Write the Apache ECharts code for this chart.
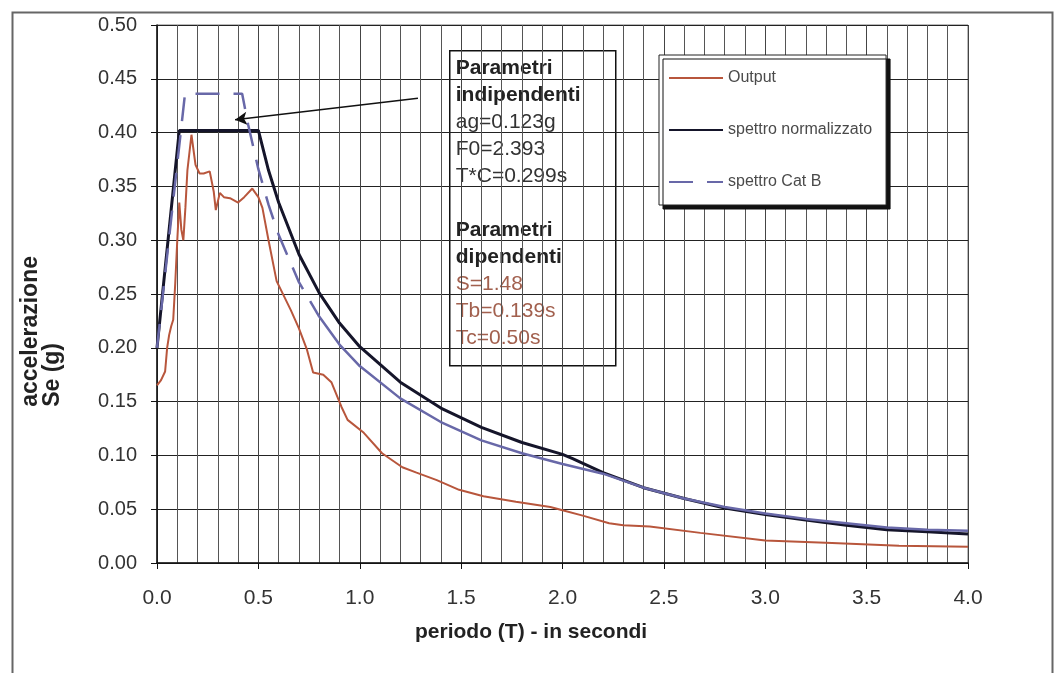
<!DOCTYPE html>
<html>
<head>
<meta charset="utf-8">
<script src="https://cdn.jsdelivr.net/npm/echarts@6/dist/echarts.min.js"></script>
<style>
  html, body { margin: 0; padding: 0; background: #fff; }
  #chart { width: 1061px; height: 673px; }
</style>
</head>
<body>
<div id="chart"></div>
<script>
// periodo T (s) and Se (g)
const outputT = [0, 0.02, 0.04, 0.05, 0.06, 0.07, 0.08, 0.09, 0.10, 0.11, 0.12, 0.13, 0.14, 0.15, 0.17, 0.19, 0.21, 0.23, 0.26, 0.28, 0.29, 0.31, 0.33, 0.36, 0.40, 0.43, 0.47, 0.50, 0.52, 0.55, 0.59, 0.66, 0.70, 0.74, 0.77, 0.82, 0.86, 0.91, 0.94, 1.02, 1.11, 1.21, 1.28, 1.38, 1.49, 1.61, 1.77, 1.94, 2.00, 2.10, 2.23, 2.30, 2.43, 2.68, 3.00, 3.33, 3.66, 4.00];
const outputSe = [0.165, 0.170, 0.178, 0.200, 0.212, 0.220, 0.226, 0.260, 0.300, 0.335, 0.310, 0.300, 0.330, 0.365, 0.398, 0.370, 0.362, 0.362, 0.364, 0.345, 0.328, 0.344, 0.340, 0.339, 0.335, 0.340, 0.348, 0.340, 0.330, 0.300, 0.262, 0.235, 0.218, 0.198, 0.177, 0.175, 0.168, 0.145, 0.133, 0.121, 0.102, 0.089, 0.084, 0.077, 0.068, 0.062, 0.057, 0.052, 0.049, 0.044, 0.037, 0.035, 0.034, 0.028, 0.021, 0.0185, 0.016, 0.015];

const normT = [0, 0.11, 0.50, 0.55, 0.60, 0.70, 0.80, 0.90, 1.00, 1.20, 1.40, 1.60, 1.80, 2.00, 2.05, 2.20, 2.40, 2.60, 2.80, 3.00, 3.20, 3.40, 3.60, 3.80, 4.00];
const normSe = [0.200, 0.402, 0.402, 0.365, 0.335, 0.287, 0.251, 0.223, 0.201, 0.168, 0.144, 0.126, 0.112, 0.101, 0.097, 0.084, 0.070, 0.060, 0.051, 0.045, 0.040, 0.035, 0.031, 0.029, 0.027];

const catBT = [0, 0.138, 0.42, 0.45, 0.50, 0.55, 0.60, 0.70, 0.80, 0.90, 1.00, 1.20, 1.40, 1.60, 1.80, 2.00, 2.20, 2.40, 2.60, 2.80, 3.00, 3.20, 3.40, 3.60, 3.80, 4.00];
const catBSe = [0.200, 0.436, 0.436, 0.407, 0.366, 0.333, 0.305, 0.261, 0.229, 0.203, 0.183, 0.153, 0.131, 0.114, 0.102, 0.092, 0.083, 0.070, 0.060, 0.052, 0.046, 0.041, 0.037, 0.033, 0.031, 0.030];
const catBDashEnd = 8; // dashes visible up to T = 0.8, denser segments look solid after

const names = ['Output', 'spettro normalizzato', 'spettro Cat B'];
const arrowFrom = [1.287, 0.432];
const arrowTo = [0.385, 0.412];

const boxLines = [
  ['b', 'Parametri'], ['b', 'indipendenti'], ['n', 'ag=0.123g'], ['n', 'F0=2.393'], ['n', 'T*C=0.299s'], ['n', ' '],
  ['b', 'Parametri'], ['b', 'dipendenti'], ['r', 'S=1.48'], ['r', 'Tb=0.139s'], ['r', 'Tc=0.50s']
];

const font = '"Liberation Sans", Arial, sans-serif';
const narrow = '"Liberation Sans Narrow", "Arial Narrow", "Liberation Sans", sans-serif';

const zip = (xs, ys) => xs.map((x, i) => [x, ys[i]]);

const chart = echarts.init(document.getElementById('chart'), null, { renderer: 'canvas' });

const option = {
  backgroundColor: '#fff',
  animation: false,
  grid: { left: 157, top: 25, width: 811, height: 538, show: true, borderColor: '#777', borderWidth: 1, backgroundColor: '#fff' },
  legend: {
    data: names,
    orient: 'vertical',
    left: 659, top: 55,
    padding: [15, 14, 15, 9],
    itemGap: 36, itemWidth: 54, itemHeight: 14,
    backgroundColor: '#fff',
    borderColor: '#222', borderWidth: 1,
    shadowColor: '#111', shadowBlur: 0, shadowOffsetX: 4, shadowOffsetY: 4,
    itemStyle: { opacity: 0 },
    textStyle: { fontFamily: narrow, fontSize: 16, color: '#4a4a4a' }
  },
  xAxis: {
    type: 'value', min: 0, max: 4, interval: 0.5,
    axisLine: { lineStyle: { color: '#111', width: 1.5 } },
    axisTick: { show: true, length: 6, lineStyle: { color: '#111' } },
    axisLabel: { fontFamily: font, fontSize: 21, color: '#333', margin: 25, formatter: v => v.toFixed(1) },
    splitLine: { show: true, lineStyle: { color: '#444', width: 1 } },
    minorTick: { show: false, splitNumber: 5 },
    minorSplitLine: { show: true, lineStyle: { color: '#555', width: 1 } }
  },
  yAxis: {
    type: 'value', min: 0, max: 0.5, interval: 0.05,
    axisLine: { show: true, lineStyle: { color: '#111', width: 1.5 } },
    axisTick: { show: true, length: 6, lineStyle: { color: '#111' } },
    axisLabel: { fontFamily: font, fontSize: 20, color: '#333', margin: 20, formatter: v => v.toFixed(2) },
    splitLine: { show: true, lineStyle: { color: '#222', width: 1 } }
  },
  series: [
    {
      name: names[0], type: 'line', data: zip(outputT, outputSe), symbol: 'none', z: 3,
      lineStyle: { color: '#b8563c', width: 2 }, itemStyle: { color: '#b8563c' },
      markLine: {
        silent: true, symbol: ['none', 'arrow'], symbolSize: [10, 12],
        label: { show: false },
        lineStyle: { color: '#111', width: 1.5, type: 'solid' },
        data: [[{ coord: arrowFrom }, { coord: arrowTo }]]
      }
    },
    {
      name: names[1], type: 'line', data: zip(normT, normSe), symbol: 'none', z: 4,
      lineStyle: { color: '#15152a', width: 3 }, itemStyle: { color: '#15152a' }
    },
    {
      name: names[2], type: 'line', data: zip(catBT, catBSe).slice(0, catBDashEnd + 1), symbol: 'none', z: 5,
      lineStyle: { color: '#6868a8', width: 2.5, type: [24, 14] }, itemStyle: { color: '#6868a8' }
    },
    {
      name: 'spettro Cat B (seguito)', type: 'line', data: zip(catBT, catBSe).slice(catBDashEnd), symbol: 'none', z: 5,
      lineStyle: { color: '#6868a8', width: 2.5 }, itemStyle: { color: '#6868a8' }
    }
  ],
  graphic: [
    {
      type: 'rect', left: 10, top: 10, silent: true, z: -10,
      shape: { width: 1040, height: 680 },
      style: { fill: 'none', stroke: '#666', lineWidth: 2 }
    },
    {
      type: 'text', left: 19, top: 256, silent: true,
      rotation: Math.PI / 2,
      style: {
        text: 'accelerazione\nSe (g)', align: 'center', verticalAlign: 'middle',
        fontFamily: font, fontWeight: 'bold', fontSize: 23, lineHeight: 22, fill: '#222'
      }
    },
    {
      type: 'text', left: 415, top: 622, silent: true,
      style: {
        text: 'periodo (T) - in secondi',
        fontFamily: font, fontWeight: 'bold', fontSize: 21, fill: '#222'
      }
    },
    {
      type: 'group', left: 449, top: 50, z: 100,
      children: [
        { type: 'rect', shape: { x: 0, y: 0, width: 166, height: 315 }, style: { fill: '#fff', stroke: '#111', lineWidth: 1.5 } },
        {
          type: 'text', x: 6, y: 4,
          style: {
            text: boxLines.map(l => '{' + l[0] + '|' + l[1] + '}').join('\n'),
            rich: {
              b: { fontFamily: font, fontWeight: 'bold', fontSize: 21, lineHeight: 27, fill: '#222' },
              n: { fontFamily: font, fontSize: 21, lineHeight: 27, fill: '#333' },
              r: { fontFamily: font, fontSize: 21, lineHeight: 27, fill: '#a2604e' }
            }
          }
        }
      ]
    }
  ]
};

chart.setOption(option);
window.addEventListener('resize', () => chart.resize());
</script>
</body>
</html>
